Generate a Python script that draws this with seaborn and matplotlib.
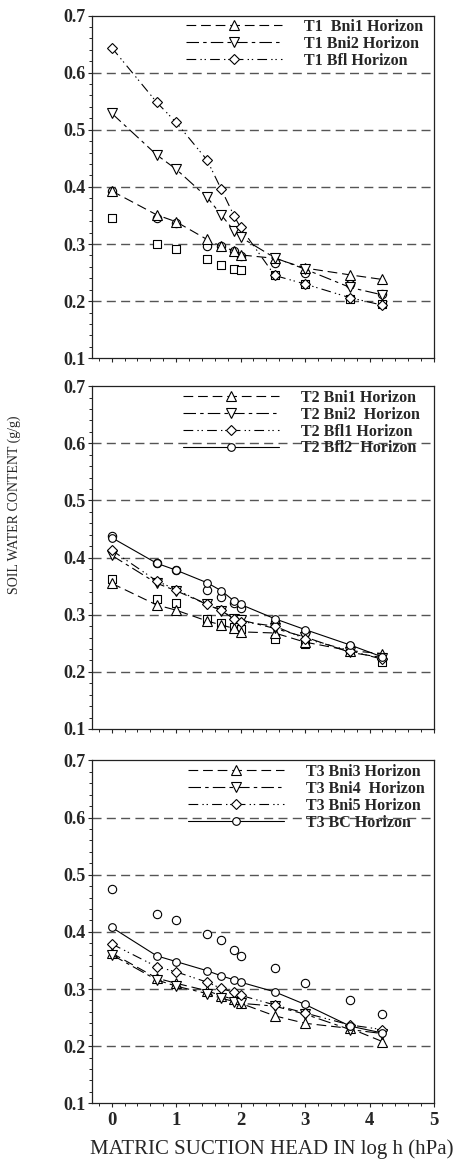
import numpy as np
import matplotlib
matplotlib.use("Agg")
import matplotlib.pyplot as plt
import seaborn as sns

# log h positions (hPa)
x_log = [0, 0.7, 1.0, 1.48, 1.7, 1.9, 2.0, 2.53, 3.0, 3.7, 4.2]

# T1 profile
t1_bni1 = [0.393, 0.351, 0.339, 0.308, 0.296, 0.288, 0.281, 0.275, 0.258, 0.246, 0.238]
t1_bni2 = [0.529, 0.456, 0.431, 0.382, 0.351, 0.323, 0.312, 0.276, 0.256, 0.224, 0.211]
t1_bfl = [0.644, 0.548, 0.513, 0.447, 0.396, 0.349, 0.329, 0.245, 0.230, 0.206, 0.193]
t1_circles = [0.393, 0.345, 0.337, 0.297, 0.296, 0.287, 0.279, 0.266, 0.249, 0.230, 0.212]
t1_squares = [0.345, 0.300, 0.291, 0.273, 0.264, 0.257, 0.254, 0.245, 0.230, 0.203, 0.195]

# T2 profile
t2_bni1 = [0.355, 0.317, 0.308, 0.289, 0.282, 0.276, 0.270, 0.268, 0.252, 0.237, 0.232]
t2_bni2 = [0.404, 0.355, 0.342, 0.318, 0.307, 0.293, 0.291, 0.276, 0.261, 0.234, 0.225]
t2_bfl1 = [0.413, 0.359, 0.344, 0.318, 0.308, 0.292, 0.288, 0.280, 0.258, 0.237, 0.222]
t2_bfl2 = [0.435, 0.390, 0.378, 0.356, 0.342, 0.324, 0.318, 0.293, 0.274, 0.247, 0.226]
t2_circles = [0.437, 0.390, 0.378, 0.343, 0.331, 0.320, 0.311, 0.287, 0.268, 0.245, 0.222]
t2_squares = [0.362, 0.327, 0.320, 0.293, 0.285, 0.278, 0.275, 0.257, 0.249, 0.237, 0.218]

# T3 profile
t3_bni3 = [0.363, 0.319, 0.310, 0.297, 0.288, 0.282, 0.275, 0.253, 0.240, 0.231, 0.208]
t3_bni4 = [0.360, 0.316, 0.305, 0.292, 0.284, 0.278, 0.275, 0.270, 0.256, 0.229, 0.222]
t3_bni5 = [0.379, 0.339, 0.330, 0.312, 0.301, 0.294, 0.289, 0.272, 0.258, 0.237, 0.229]
t3_bc = [0.408, 0.358, 0.348, 0.332, 0.323, 0.316, 0.312, 0.295, 0.273, 0.235, 0.223]
t3_circles = [0.475, 0.431, 0.421, 0.396, 0.386, 0.368, 0.358, 0.336, 0.311, 0.280, 0.257]

sns.set_style("ticks")
plt.rcParams["font.family"] = ["Liberation Serif", "DejaVu Serif"]
plt.rcParams["lines.scale_dashes"] = False

LS = {
    "^": (0, (7, 3.5)),
    "v": (0, (9, 3, 2.5, 3)),
    "D": (0, (7, 3, 1, 2, 1, 3)),
    "o": "-",
}
MS = {"^": 6.5, "v": 6.5, "D": 5.5, "o": 5.5}

panels = [
    ([("T1  Bni1 Horizon", t1_bni1, "^"),
      ("T1 Bni2 Horizon", t1_bni2, "v"),
      ("T1 Bfl Horizon", t1_bfl, "D")],
     [(t1_circles, "o"), (t1_squares, "s")], 0.274),
    ([("T2 Bni1 Horizon", t2_bni1, "^"),
      ("T2 Bni2  Horizon", t2_bni2, "v"),
      ("T2 Bfl1 Horizon", t2_bfl1, "D"),
      ("T2 Bfl2  Horizon", t2_bfl2, "o")],
     [(t2_circles, "o"), (t2_squares, "s")], 0.266),
    ([("T3 Bni3 Horizon", t3_bni3, "^"),
      ("T3 Bni4  Horizon", t3_bni4, "v"),
      ("T3 Bni5 Horizon", t3_bni5, "D"),
      ("T3 BC Horizon", t3_bc, "o")],
     [(t3_circles, "o")], 0.28),
]

fig = plt.figure(figsize=(4.58, 11.66), dpi=100)
bottoms = [0.6927, 0.3748, 0.0538]
left, width, height = 0.2015, 0.7461, 0.2940

for i, (series, extras, leg_x) in enumerate(panels):
    ax = fig.add_axes([left, bottoms[i], width, height])
    for yv in [0.2, 0.3, 0.4, 0.5, 0.6]:
        ax.axhline(yv, color="#555555", lw=1.0, ls=(0, (6.5, 3.8)), zorder=0)

    for vals, m in extras:
        sns.scatterplot(x=x_log, y=vals, ax=ax, marker=m, s=30 if m == "s" else 36,
                        facecolor="white", edgecolor="black", linewidth=0.8, zorder=2)
    for label, vals, m in series:
        sns.lineplot(x=x_log, y=vals, ax=ax, color="black", lw=0.8,
                     linestyle=LS[m], marker=m, markersize=MS[m],
                     markerfacecolor="white", markeredgecolor="black",
                     markeredgewidth=0.8, label=label, zorder=3)

    ax.set_xlim(-0.3, 5)
    ax.set_ylim(0.1, 0.7)
    ax.set_xticks([0, 1, 2, 3, 4, 5])
    ax.set_xticks(np.arange(-0.2, 5.0, 0.2), minor=True)
    ax.set_yticks([0.1, 0.2, 0.3, 0.4, 0.5, 0.6, 0.7])
    ax.set_yticks(np.arange(0.1, 0.7, 0.02), minor=True)
    ax.set_yticklabels(["0.1", "0.2", "0.3", "0.4", "0.5", "0.6", "0.7"],
                       fontweight="bold", fontsize=13)
    ax.tick_params(axis="both", which="major", length=3.2, width=0.8, direction="out", pad=1.5)
    ax.tick_params(axis="both", which="minor", length=2, width=0.7, direction="out")
    ax.tick_params(axis="x", pad=3)
    for sp in ax.spines.values():
        sp.set_visible(True)
        sp.set_linewidth(0.9)
        sp.set_color("#222222")
    ax.set_ylabel("")
    ax.set_xlabel("")
    if i < 2:
        ax.set_xticklabels([])
    else:
        ax.set_xticklabels(["0", "1", "2", "3", "4", "5"], fontweight="bold", fontsize=13.5)
        ax.set_xlabel("MATRIC SUCTION HEAD IN log h (hPa)", fontsize=15, labelpad=9)
        ax.xaxis.set_label_coords(0.525, -0.105)

    leg = ax.legend(loc="upper left", bbox_to_anchor=(leg_x, 0.99), frameon=False,
                    borderpad=0, borderaxespad=0, handlelength=6.0, handletextpad=1.4,
                    labelspacing=0.06, numpoints=1,
                    prop={"family": "Liberation Serif", "weight": "bold", "size": 11.5})

fig.text(0.031, 0.567, "SOIL WATER CONTENT (g/g)", rotation=90, fontsize=10,
         ha="center", va="center")

fig.savefig("out.png", dpi=100)
